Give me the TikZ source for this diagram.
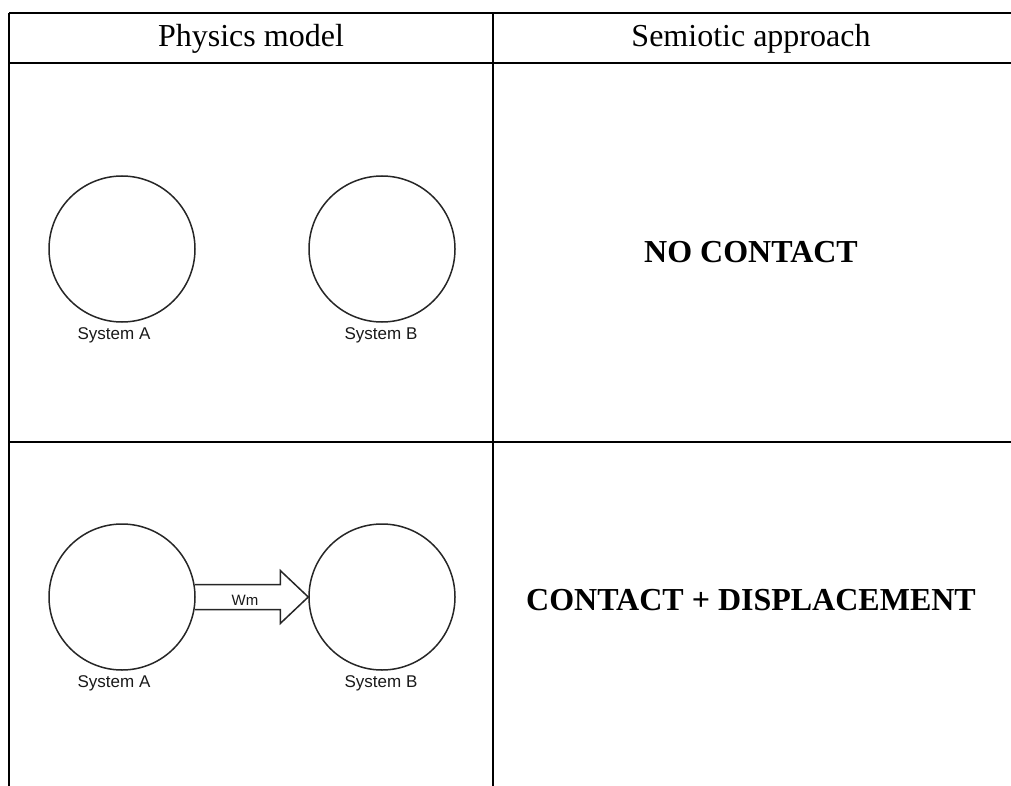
\documentclass[tikz,border=0pt]{standalone}
\usepackage{fontspec}
\setmainfont{Liberation Serif}
\newfontfamily\arialfont{Liberation Sans}
\usetikzlibrary{calc}
\tikzset{
  rule/.style={line width=1.6pt, black},
  sysball/.style={circle, draw=black!85, line width=1.5pt, minimum size=146pt, inner sep=0pt},
  syslabel/.style={font=\arialfont\fontsize{17}{20}\selectfont, text=black!90, inner sep=0pt},
  headtext/.style={font=\fontsize{32}{38}\selectfont, inner sep=0pt},
  boldtext/.style={font=\bfseries\fontsize{32}{38}\selectfont, inner sep=0pt},
  workarrow/.style={draw=black!85, line width=1.5pt, line join=miter},
}
\begin{document}
\begin{tikzpicture}[x=1pt,y=-1pt]
\useasboundingbox (0,0) rectangle (1011,786);
% table rules
\draw[rule] (9,13) -- (1011,13);
\draw[rule] (9,63) -- (1011,63);
\draw[rule] (9,442) -- (1011,442);
\draw[rule] (9,13) -- (9,786);
\draw[rule] (493,13) -- (493,786);
% header
\node[headtext] (h1) at (251,39) {Physics model};
\node[headtext] (h2) at (751,39) {Semiotic approach};
% row 1
\node[sysball] (A1) at (122,249) {};
\node[sysball] (B1) at (382,249) {};
\node[syslabel] (LA1) at (114,335) {System A};
\node[syslabel] (LB1) at (381,335) {System B};
\node[boldtext] (t1) at (751,252) {NO CONTACT};
% row 2
\node[sysball] (A2) at (122,597) {};
\node[sysball] (B2) at (382,597) {};
\node[syslabel] (LA2) at (114,683) {System A};
\node[syslabel] (LB2) at (381,683) {System B};
\node[boldtext] (t2) at (751,600) {CONTACT + DISPLACEMENT};
% arrow Wm
\draw[workarrow] ($(A2.east)+(-1,-12.5)$) -- ($(B2.west)+(-28,-12.5)$)
  -- ($(B2.west)+(-28,-26.5)$) -- (B2.west) -- ($(B2.west)+(-28,26.5)$)
  -- ($(B2.west)+(-28,12.5)$) -- ($(A2.east)+(-1,12.5)$);
\node[syslabel, font=\arialfont\fontsize{15}{18}\selectfont] (wm) at (245,600) {Wm};
\end{tikzpicture}
\end{document}
